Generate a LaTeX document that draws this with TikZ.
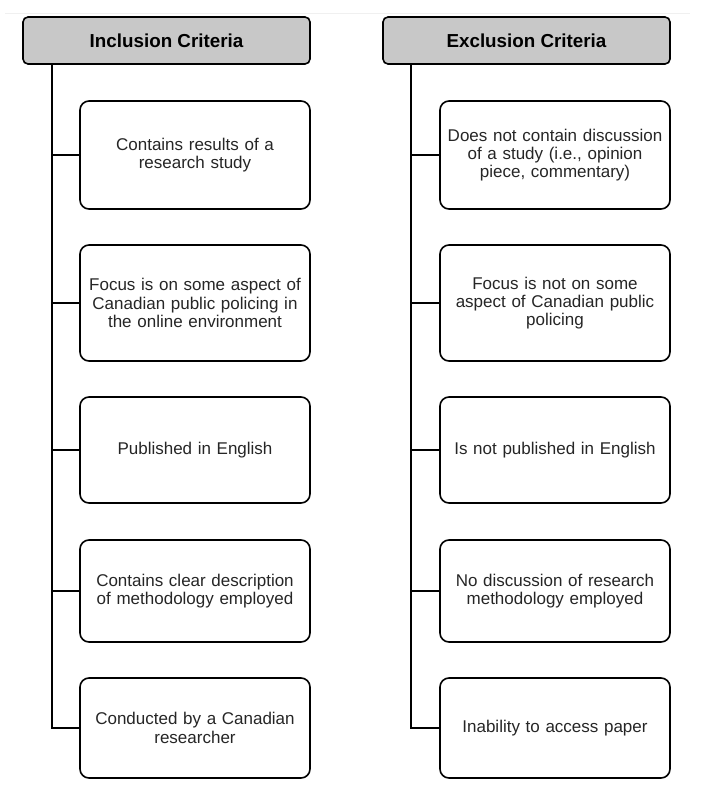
\documentclass[tikz,border=0pt]{standalone}
\usepackage{fontspec}
\setmainfont{Liberation Sans}
\begin{document}
\begin{tikzpicture}[x=1pt,y=-1pt,
  hdr/.style={draw=black,line width=1.6pt,fill=hdrgray,rounded corners=5pt,minimum width=287pt,minimum height=47pt,font=\fontsize{18.8}{21}\selectfont\bfseries,inner sep=0pt},
  crit/.style={draw=black,line width=1.6pt,fill=white,rounded corners=9pt,minimum width=230pt,align=center,font=\fontsize{17}{18.3}\selectfont,text=black!85,inner sep=0pt,text width=229pt},
  conn/.style={draw=black,line width=1.6pt}]
\definecolor{hdrgray}{HTML}{C8C8C8}
\useasboundingbox (0,0) rectangle (708,804);
\draw[black!6,line width=1pt] (5,13) -- (690,13);
% headers
\node[hdr] (IH) at (166.5,40.5) {Inclusion Criteria};
\node[hdr] (EH) at (526.5,40.5) {Exclusion Criteria};
% left boxes
\node[crit,minimum height=108pt] (I1) at (195,155) {Contains results of a\\research study};
\node[crit,minimum height=116pt] (I2) at (195,303) {Focus is on some aspect of\\Canadian public policing in\\the online environment};
\node[crit,minimum height=106pt] (I3) at (195,450) {Published in English};
\node[crit,minimum height=102pt] (I4) at (195,591) {Contains clear description\\of methodology employed};
\node[crit,minimum height=100pt] (I5) at (195,728) {Conducted by a Canadian\\researcher};
% right boxes
\node[crit,minimum height=108pt] (E1) at (555,155) {Does not contain discussion\\of a study (i.e., opinion\\piece, commentary)};
\node[crit,minimum height=116pt] (E2) at (555,303) {Focus is not on some\\aspect of Canadian public\\policing};
\node[crit,minimum height=106pt] (E3) at (555,450) {Is not published in English};
\node[crit,minimum height=102pt] (E4) at (555,591) {No discussion of research\\methodology employed};
\node[crit,minimum height=100pt] (E5) at (555,728) {Inability to access paper};
% trunks
\coordinate (IT) at (52,64);
\coordinate (ET) at (411,64);
\draw[conn] (IH.south -| IT) -- (I5.west -| IT) -- (I5.west);
\draw[conn] (EH.south -| ET) -- (E5.west -| ET) -- (E5.west);
\foreach \n in {1,2,3,4}{
  \draw[conn] (I\n.west -| IT) -- (I\n.west);
  \draw[conn] (E\n.west -| ET) -- (E\n.west);
}
\end{tikzpicture}
\end{document}
